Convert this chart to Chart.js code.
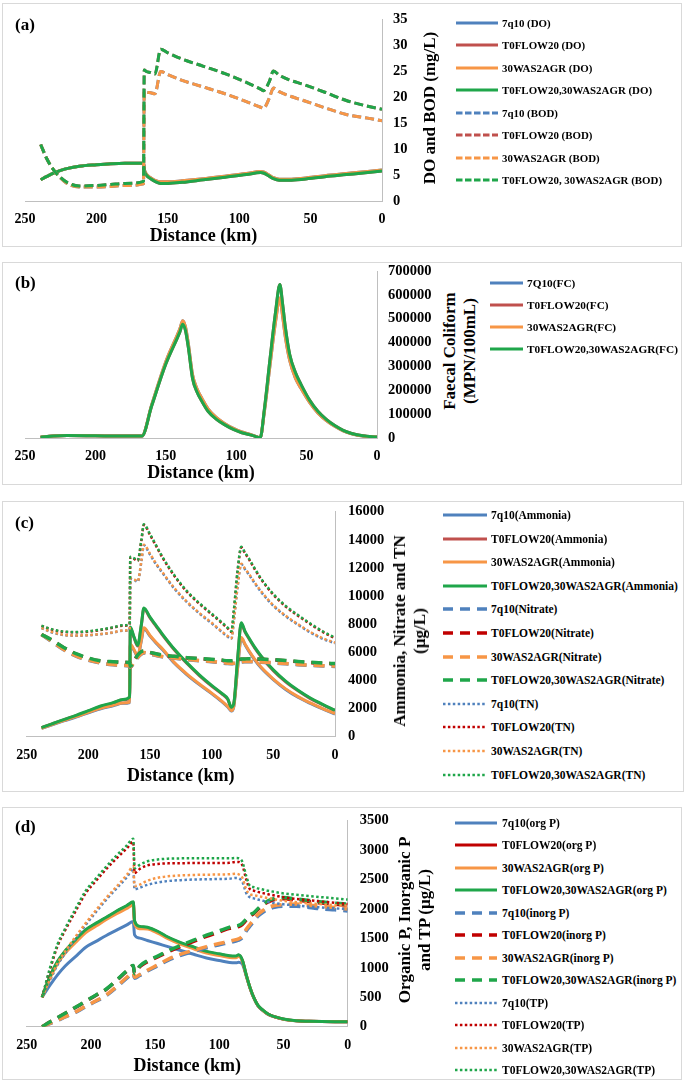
<!DOCTYPE html>
<html>
<head>
<meta charset="utf-8">
<script src="https://cdn.jsdelivr.net/npm/chart.js@4.4.1/dist/chart.umd.min.js"></script>
<style>
  body { margin: 0; background: #fff; width: 685px; height: 1082px; position: relative; overflow: hidden;
         font-family: "Liberation Serif", "Times New Roman", serif; font-weight: bold; color: #000; }
  .frame { position: absolute; border: 1px solid #d9d9d9; box-sizing: border-box; }
  canvas { position: absolute; left: 0; }
  .tag { position: absolute; left: 15px; font-size: 17px; line-height: 20px; transform: translateY(-50%); }
  .ytitle { position: absolute; font-size: 17px; line-height: 20px; text-align: center; white-space: nowrap;
            transform: translate(-50%, -50%) rotate(-90deg); }
  .leg { position: absolute; height: 16px; line-height: 16px; white-space: nowrap; }
  .leg svg { position: absolute; left: 0; top: 0; }
  .leg span { position: absolute; top: 0; }
</style>
</head>
<body>
<script>
/* ── Data ───────────────────────────────────────────────────── */

// (a) DO and BOD, mg/L
const kmA = [239, 235, 230, 225, 220, 212, 200, 190, 180, 167, 166.5, 165, 162, 159, 155, 150, 140, 125, 110, 95, 85, 83, 79, 76, 72, 65, 55, 40, 25, 10, 0];
const doQ7   = [4.1, 4.7, 5.4, 5.9, 6.3, 6.7, 7.0, 7.2, 7.3, 7.3, 6.2, 5.2, 4.5, 4.0, 3.7, 3.7, 3.9, 4.3, 4.8, 5.3, 5.7, 5.6, 5.0, 4.5, 4.2, 4.2, 4.4, 4.9, 5.3, 5.7, 6.0];
const doFlow = [4.1, 4.7, 5.4, 5.9, 6.3, 6.7, 7.0, 7.2, 7.3, 7.3, 6.0, 5.0, 4.3, 3.8, 3.4, 3.4, 3.6, 4.1, 4.6, 5.1, 5.5, 5.4, 4.8, 4.3, 4.0, 4.0, 4.2, 4.7, 5.1, 5.5, 5.8];
const doWas  = [4.1, 4.7, 5.4, 5.9, 6.3, 6.7, 7.0, 7.2, 7.3, 7.3, 6.2, 5.2, 4.5, 4.0, 3.7, 3.7, 3.9, 4.3, 4.8, 5.3, 5.7, 5.6, 5.0, 4.5, 4.2, 4.2, 4.4, 4.9, 5.3, 5.7, 6.0];
const doBoth = [4.1, 4.7, 5.4, 5.9, 6.3, 6.7, 7.0, 7.2, 7.3, 7.3, 6.0, 5.0, 4.3, 3.8, 3.4, 3.4, 3.6, 4.1, 4.6, 5.1, 5.5, 5.4, 4.8, 4.3, 4.0, 4.0, 4.2, 4.7, 5.1, 5.5, 5.8];
const bodQ7   = [10.9, 8.3, 6.0, 4.4, 3.3, 2.7, 2.7, 2.8, 3.0, 3.3, 21.2, 21.0, 20.9, 20.7, 25.0, 24.4, 23.3, 22.0, 20.7, 19.2, 18.1, 17.9, 19.8, 21.8, 21.1, 20.3, 19.4, 18.0, 16.7, 16.0, 15.5];
const bodFlow = [10.9, 8.3, 6.0, 4.5, 3.5, 2.9, 3.0, 3.2, 3.4, 3.8, 25.3, 25.0, 24.8, 24.5, 29.3, 28.6, 27.4, 26.0, 24.6, 22.9, 21.6, 21.3, 23.0, 25.1, 24.3, 23.4, 22.5, 21.0, 19.4, 18.3, 17.7];
const bodWas  = [10.9, 8.3, 6.0, 4.4, 3.3, 2.7, 2.7, 2.8, 3.0, 3.3, 21.2, 21.0, 20.9, 20.7, 25.0, 24.4, 23.3, 22.0, 20.7, 19.2, 18.1, 17.9, 19.8, 21.8, 21.1, 20.3, 19.4, 18.0, 16.7, 16.0, 15.5];
const bodBoth = [10.9, 8.3, 6.0, 4.5, 3.5, 2.9, 3.0, 3.2, 3.4, 3.8, 25.3, 25.0, 24.8, 24.5, 29.3, 28.6, 27.4, 26.0, 24.6, 22.9, 21.6, 21.3, 23.0, 25.1, 24.3, 23.4, 22.5, 21.0, 19.4, 18.3, 17.7];
const labelsA = ['7q10 (DO)', 'T0FLOW20 (DO)', '30WAS2AGR (DO)', 'T0FLOW20,30WAS2AGR (DO)',
                 '7q10 (BOD)', 'T0FLOW20 (BOD)', '30WAS2AGR (BOD)', 'T0FLOW20, 30WAS2AGR (BOD)'];

// (b) Faecal coliform, MPN/100mL
const kmB = [239, 230, 220, 200, 180, 167, 160, 150, 140, 138, 136, 134, 131, 128, 124, 120, 114, 108, 102, 96, 90, 86, 83, 80, 76, 72, 69, 67, 65, 62, 58, 54, 48, 42, 36, 30, 24, 18, 10, 0];
const fcQ7   = [3000, 8000, 10000, 9000, 8000, 8000, 140000, 320000, 458000, 491000, 465000, 395000, 265000, 208000, 162000, 122000, 85000, 60000, 40000, 25000, 15000, 7000, 0, 110000, 305000, 490000, 587000, 510000, 420000, 325000, 252000, 208000, 150000, 105000, 73000, 49000, 30000, 18000, 8000, 4000];
const fcFlow = [3000, 8000, 10000, 9000, 8000, 8000, 135000, 310000, 445000, 477000, 450000, 380000, 250000, 195000, 150000, 112000, 78000, 55000, 36000, 22000, 13000, 6000, 0, 120000, 330000, 530000, 643000, 560000, 460000, 350000, 275000, 225000, 160000, 112000, 78000, 52000, 32000, 19000, 9000, 4000];
const fcWas  = [3000, 8000, 10000, 9000, 8000, 8000, 140000, 320000, 458000, 491000, 465000, 395000, 265000, 208000, 162000, 122000, 85000, 60000, 40000, 25000, 15000, 7000, 0, 110000, 305000, 490000, 587000, 510000, 420000, 325000, 252000, 208000, 150000, 105000, 73000, 49000, 30000, 18000, 8000, 4000];
const fcBoth = [3000, 8000, 10000, 9000, 8000, 8000, 135000, 310000, 445000, 477000, 450000, 380000, 250000, 195000, 150000, 112000, 78000, 55000, 36000, 22000, 13000, 6000, 0, 120000, 330000, 530000, 643000, 560000, 460000, 350000, 275000, 225000, 160000, 112000, 78000, 52000, 32000, 19000, 9000, 4000];
const labelsB = ['7Q10(FC)', 'T0FLOW20(FC)', '30WAS2AGR(FC)', 'T0FLOW20,30WAS2AGR(FC)'];

// (c) Ammonia, nitrate and TN, ug/L
const kmC = [238, 230, 220, 210, 200, 190, 180, 172, 166.5, 166, 163, 160, 157, 155, 150, 145, 140, 130, 120, 110, 100, 92, 87, 84, 82, 79, 76, 73, 70, 65, 60, 50, 40, 30, 20, 10, 0];
const nh4Q7   = [590, 830, 1120, 1400, 1700, 1990, 2200, 2370, 2430, 6520, 6150, 5700, 6850, 7690, 7150, 6650, 6200, 5200, 4400, 3700, 3060, 2510, 2110, 1820, 2170, 4850, 7000, 6550, 6100, 5450, 4900, 4060, 3360, 2810, 2370, 1970, 1610];
const nh4Flow = [650, 890, 1200, 1500, 1820, 2150, 2390, 2620, 2790, 7750, 7050, 6450, 7950, 9100, 8450, 7850, 7250, 6150, 5200, 4350, 3600, 3060, 2660, 2070, 2370, 5450, 8050, 7450, 7000, 6300, 5700, 4700, 3900, 3260, 2710, 2270, 1850];
const nh4Was  = [600, 850, 1150, 1430, 1730, 2020, 2230, 2400, 2460, 6570, 6200, 5750, 6900, 7740, 7200, 6700, 6250, 5250, 4450, 3750, 3100, 2550, 2150, 1850, 2200, 4900, 7050, 6600, 6150, 5500, 4950, 4100, 3400, 2850, 2400, 2000, 1640];
const nh4Both = [650, 900, 1220, 1520, 1850, 2180, 2420, 2650, 2820, 7800, 7100, 6500, 8000, 9150, 8500, 7900, 7300, 6200, 5250, 4400, 3650, 3100, 2700, 2100, 2400, 5500, 8100, 7500, 7050, 6350, 5750, 4750, 3950, 3300, 2750, 2300, 1880];
const no3Q7   = [7270, 6780, 6180, 5730, 5430, 5230, 5110, 5060, 5020, 4930, 5280, 5630, 5880, 5960, 5860, 5770, 5680, 5580, 5480, 5400, 5330, 5250, 5200, 5190, 5210, 5260, 5310, 5330, 5330, 5320, 5300, 5250, 5180, 5120, 5070, 5030, 5000];
const no3Flow = [7270, 6880, 6330, 5880, 5580, 5380, 5310, 5280, 5260, 4980, 5380, 5780, 6030, 6080, 5980, 5880, 5780, 5700, 5600, 5540, 5480, 5430, 5380, 5380, 5400, 5460, 5500, 5510, 5520, 5510, 5500, 5460, 5400, 5330, 5270, 5220, 5180];
const no3Was  = [7270, 6800, 6200, 5750, 5450, 5250, 5130, 5080, 5040, 4950, 5300, 5650, 5900, 5980, 5880, 5790, 5700, 5600, 5500, 5420, 5350, 5270, 5220, 5210, 5230, 5280, 5330, 5350, 5350, 5340, 5320, 5270, 5200, 5140, 5090, 5050, 5020];
const no3Both = [7270, 6900, 6350, 5900, 5600, 5400, 5330, 5300, 5280, 5000, 5400, 5800, 6050, 6100, 6000, 5900, 5800, 5720, 5620, 5560, 5500, 5450, 5400, 5400, 5420, 5480, 5520, 5530, 5540, 5530, 5520, 5480, 5420, 5350, 5290, 5240, 5200];
const tnQ7   = [7720, 7430, 7230, 7180, 7210, 7280, 7400, 7530, 7600, 11220, 11160, 11010, 12460, 13600, 12950, 12250, 11650, 10500, 9560, 8760, 8060, 7460, 7110, 6960, 8260, 10650, 12250, 11900, 11550, 10900, 10300, 9310, 8560, 7960, 7410, 6960, 6650];
const tnFlow = [7880, 7620, 7450, 7420, 7470, 7590, 7750, 7890, 7990, 12740, 12650, 12500, 13950, 15050, 14350, 13550, 12750, 11400, 10300, 9450, 8700, 8100, 7700, 7450, 8950, 11750, 13450, 13050, 12650, 11900, 11200, 10100, 9250, 8600, 8000, 7450, 6990];
const tnWas  = [7740, 7450, 7250, 7200, 7230, 7300, 7420, 7550, 7620, 11260, 11200, 11050, 12500, 13650, 13000, 12300, 11700, 10550, 9600, 8800, 8100, 7500, 7150, 7000, 8300, 10700, 12300, 11950, 11600, 10950, 10350, 9350, 8600, 8000, 7450, 7000, 6690];
const tnBoth = [7900, 7650, 7480, 7450, 7500, 7620, 7780, 7920, 8020, 12790, 12700, 12550, 14000, 15100, 14400, 13600, 12800, 11450, 10350, 9500, 8750, 8150, 7750, 7500, 9000, 11800, 13500, 13100, 12700, 11950, 11250, 10150, 9300, 8650, 8050, 7500, 7040];
const labelsC = ['7q10(Ammonia)', 'T0FLOW20(Ammonia)', '30WAS2AGR(Ammonia)', 'T0FLOW20,30WAS2AGR(Ammonia)',
                 '7q10(Nitrate)', 'T0FLOW20(Nitrate)', '30WAS2AGR(Nitrate)', 'T0FLOW20,30WAS2AGR(Nitrate)',
                 '7q10(TN)', 'T0FLOW20(TN)', '30WAS2AGR(TN)', 'T0FLOW20,30WAS2AGR(TN)'];

// (d) Organic P, inorganic P and TP, ug/L
const kmD = [238, 232, 226, 220, 212, 204, 196, 188, 180, 172, 167, 166, 162, 156, 148, 140, 130, 120, 110, 100, 92, 87, 85, 82, 79, 76, 73, 70, 66, 62, 57, 50, 40, 30, 20, 10, 0];
const orgPQ7   = [500, 700, 880, 1030, 1190, 1350, 1450, 1550, 1640, 1730, 1789, 1560, 1505, 1465, 1413, 1360, 1295, 1230, 1168, 1125, 1090, 1085, 1095, 1060, 860, 650, 480, 358, 273, 210, 167, 128, 100, 92, 88, 85, 83];
const orgPFlow = [500, 845, 1100, 1280, 1470, 1640, 1750, 1850, 1955, 2050, 2112, 1790, 1695, 1680, 1612, 1514, 1420, 1345, 1270, 1228, 1196, 1190, 1212, 1122, 875, 657, 488, 363, 279, 214, 169, 129, 100, 93, 88, 85, 83];
const orgPWas  = [500, 820, 1070, 1250, 1430, 1600, 1710, 1820, 1920, 2010, 2067, 1750, 1665, 1660, 1590, 1495, 1400, 1325, 1250, 1210, 1175, 1170, 1195, 1110, 870, 655, 485, 360, 275, 212, 168, 128, 100, 92, 88, 85, 83];
const orgPBoth = [500, 850, 1110, 1290, 1480, 1650, 1760, 1860, 1965, 2060, 2122, 1800, 1705, 1690, 1622, 1524, 1430, 1355, 1280, 1238, 1206, 1200, 1222, 1130, 880, 660, 490, 365, 280, 215, 170, 130, 100, 93, 88, 85, 83];
const inPQ7   = [0, 52, 105, 165, 243, 342, 432, 530, 668, 825, 905, 825, 870, 945, 1035, 1128, 1213, 1278, 1340, 1392, 1430, 1456, 1468, 1515, 1625, 1710, 1795, 1875, 1945, 1995, 2030, 2045, 2045, 2025, 2000, 1985, 1965];
const inPFlow = [0, 78, 152, 226, 325, 430, 535, 635, 785, 945, 1035, 895, 1020, 1105, 1185, 1270, 1365, 1450, 1535, 1610, 1670, 1690, 1700, 1740, 1810, 1880, 1925, 1990, 2065, 2120, 2160, 2175, 2150, 2125, 2100, 2080, 2060];
const inPWas  = [0, 55, 110, 170, 250, 350, 440, 540, 680, 840, 920, 840, 885, 960, 1050, 1145, 1232, 1298, 1360, 1413, 1453, 1480, 1492, 1540, 1655, 1740, 1825, 1905, 1975, 2025, 2058, 2075, 2083, 2065, 2045, 2025, 2000];
const inPBoth = [0, 80, 155, 230, 330, 435, 540, 640, 790, 950, 1040, 900, 1030, 1120, 1200, 1288, 1383, 1469, 1555, 1630, 1690, 1710, 1720, 1760, 1830, 1900, 1940, 2005, 2080, 2140, 2180, 2195, 2170, 2145, 2120, 2100, 2083];
const tpQ7   = [500, 780, 1050, 1250, 1500, 1730, 1950, 2160, 2350, 2540, 2680, 2333, 2361, 2410, 2450, 2475, 2490, 2500, 2505, 2510, 2515, 2528, 2520, 2460, 2270, 2195, 2180, 2160, 2140, 2120, 2100, 2080, 2060, 2040, 2025, 2010, 2000];
const tpFlow = [500, 960, 1370, 1640, 1960, 2270, 2480, 2680, 2860, 3030, 3140, 2611, 2680, 2740, 2765, 2775, 2778, 2780, 2780, 2780, 2785, 2800, 2800, 2740, 2500, 2333, 2310, 2290, 2270, 2250, 2230, 2200, 2170, 2150, 2125, 2105, 2085];
const tpWas  = [500, 800, 1080, 1280, 1530, 1760, 1980, 2190, 2380, 2580, 2722, 2389, 2415, 2480, 2530, 2555, 2570, 2578, 2583, 2585, 2590, 2600, 2590, 2530, 2330, 2250, 2235, 2220, 2200, 2185, 2165, 2140, 2115, 2095, 2080, 2065, 2056];
const tpBoth = [500, 990, 1400, 1670, 2000, 2310, 2520, 2720, 2910, 3080, 3195, 2695, 2750, 2810, 2840, 2855, 2860, 2862, 2862, 2862, 2862, 2865, 2862, 2800, 2560, 2389, 2370, 2350, 2330, 2310, 2290, 2265, 2240, 2220, 2200, 2180, 2160];
const labelsD = ['7q10(org P)', 'T0FLOW20(org P)', '30WAS2AGR(org P)', 'T0FLOW20,30WAS2AGR(org P)',
                 '7q10(inorg P)', 'T0FLOW20(inorg P)', '30WAS2AGR(inorg P)', 'T0FLOW20,30WAS2AGR(inorg P)',
                 '7q10(TP)', 'T0FLOW20(TP)', '30WAS2AGR(TP)', 'T0FLOW20,30WAS2AGR(TP)'];

/* ── Styles ─────────────────────────────────────────────────── */

const FONT = '"Liberation Serif", "Times New Roman", serif';
const AXIS = '#bfbfbf';
const BLUE = '#4f81bd', RED = '#c0504d', DARKRED = '#c00000', ORANGE = '#f79646', GREEN = '#1fa64a';

const PLOT_DASH = { solid: [], dashA: [9, 4], dash: [11, 7], dot: [2.5, 2.5] };
const LEG_DASH  = { solid: [], dashA: [6.5, 2.5], dash: [10, 7], dot: [2.5, 2.4] };

function series(labels, arrays, colors, kinds, widths) {
  return arrays.map((arr, i) => ({ label: labels[i], data: arr, color: colors[i], kind: kinds[i], width: widths[i] }));
}

const panels = [
  {
    tag: '(a)', tagY: 25, frame: [2, 3, 682, 247],
    top: 0, height: 250, left: 25, right: 382, plotTop: 15, plotBottom: 201,
    yMax: 35, yStep: 5, yPad: 11, titlePad: 2.7,
    yTitle: { x: 430, y: 108, lines: ['DO and BOD (mg/L)'] },
    legend: { x: 456, y: 23, step: 22.43, len: 42, gap: 4, font: 10.9 },
    km: kmA,
    series: series(labelsA, [doQ7, doFlow, doWas, doBoth, bodQ7, bodFlow, bodWas, bodBoth],
      [BLUE, RED, ORANGE, GREEN, BLUE, RED, ORANGE, GREEN],
      ['solid', 'solid', 'solid', 'solid', 'dashA', 'dashA', 'dashA', 'dashA'],
      [3, 3, 3, 3, 3, 3, 3, 3])
  },
  {
    tag: '(b)', tagY: 283, frame: [2, 262, 682, 485],
    top: 250, height: 240, left: 25, right: 377, plotTop: 271, plotBottom: 438,
    yMax: 700000, yStep: 100000, yPad: 11, titlePad: 6.2,
    yTitle: { x: 459.5, y: 351, lines: ['Faecal Coliform', '(MPN/100mL)'] },
    legend: { x: 490, y: 283, step: 22, len: 33, gap: 4, font: 11.3 },
    km: kmB,
    series: series(labelsB, [fcQ7, fcFlow, fcWas, fcBoth],
      [BLUE, RED, ORANGE, GREEN], ['solid', 'solid', 'solid', 'solid'], [3, 3, 3, 3])
  },
  {
    tag: '(c)', tagY: 523, frame: [2, 501, 684, 792],
    top: 490, height: 300, left: 26.7, right: 335, plotTop: 509.3, plotBottom: 736.7,
    yMax: 16000, yStep: 2000, yPad: 13, titlePad: 2.7,
    yTitle: { x: 410, y: 631, lines: ['Ammonia, Nitrate and TN', '(µg/L)'] },
    legend: { x: 443, y: 515, step: 23.6, len: 44, gap: 4, font: 11.5 },
    km: kmC,
    series: series(labelsC, [nh4Q7, nh4Flow, nh4Was, nh4Both, no3Q7, no3Flow, no3Was, no3Both, tnQ7, tnFlow, tnWas, tnBoth],
      [BLUE, RED, ORANGE, GREEN, BLUE, DARKRED, ORANGE, GREEN, BLUE, DARKRED, ORANGE, GREEN],
      ['solid', 'solid', 'solid', 'solid', 'dash', 'dash', 'dash', 'dash', 'dot', 'dot', 'dot', 'dot'],
      [3, 3, 3, 3, 3.5, 3.5, 3.5, 3.5, 2.5, 2.5, 2.5, 2.5])
  },
  {
    tag: '(d)', tagY: 827, frame: [2, 807, 682, 1080],
    top: 800, height: 280, left: 26.7, right: 347.7, plotTop: 816.7, plotBottom: 1026.7,
    yMax: 3500, yStep: 500, yPad: 12, titlePad: 3.2,
    yTitle: { x: 415, y: 920, lines: ['Organic P, Inorganic P', 'and TP (µg/L)'] },
    legend: { x: 455, y: 823, step: 22.45, len: 42, gap: 5, font: 11.5 },
    km: kmD,
    series: series(labelsD, [orgPQ7, orgPFlow, orgPWas, orgPBoth, inPQ7, inPFlow, inPWas, inPBoth, tpQ7, tpFlow, tpWas, tpBoth],
      [BLUE, DARKRED, ORANGE, GREEN, BLUE, DARKRED, ORANGE, GREEN, BLUE, DARKRED, ORANGE, GREEN],
      ['solid', 'solid', 'solid', 'solid', 'dash', 'dash', 'dash', 'dash', 'dot', 'dot', 'dot', 'dot'],
      [3, 3, 3, 3, 3.5, 3.5, 3.5, 3.5, 2.5, 2.5, 2.5, 2.5])
  }
];

/* ── Build ──────────────────────────────────────────────────── */

function el(tag, cls, parent) {
  const e = document.createElement(tag);
  if (cls) e.className = cls;
  (parent || document.body).appendChild(e);
  return e;
}

function addPanel(p) {
  // grey frame round the panel
  const f = el('div', 'frame');
  f.style.left = p.frame[0] + 'px';
  f.style.top = p.frame[1] + 'px';
  f.style.width = (p.frame[2] - p.frame[0]) + 'px';
  f.style.height = (p.frame[3] - p.frame[1]) + 'px';

  const cv = el('canvas');
  cv.width = 440;
  cv.height = p.height;
  cv.style.top = p.top + 'px';

  const tickFont = { family: FONT, size: 14, weight: 'bold' };
  const n = p.series.length;

  new Chart(cv, {
    type: 'line',
    data: {
      datasets: p.series.map((s, i) => ({
        label: s.label,
        data: p.km.map((k, j) => ({ x: k, y: s.data[j] })),
        borderColor: s.color,
        borderWidth: s.width,
        borderDash: PLOT_DASH[s.kind],
        borderJoinStyle: 'round',
        cubicInterpolationMode: 'monotone',
        pointRadius: 0,
        fill: false,
        order: n - i   // later series drawn on top, like the original
      }))
    },
    options: {
      responsive: false,
      animation: false,
      events: [],
      layout: { padding: { left: p.left, top: p.plotTop - p.top, right: 0, bottom: 0 } },
      plugins: { legend: { display: false }, tooltip: { enabled: false } },
      scales: {
        x: {
          type: 'linear', reverse: true, min: 0, max: 250,
          grid: { display: false, drawTicks: false },
          border: { color: AXIS, width: 1 },
          ticks: { stepSize: 50, padding: 10, color: '#000', font: tickFont, maxRotation: 0 },
          title: { display: true, text: 'Distance (km)', color: '#000',
                   font: { family: FONT, size: 18, weight: 'bold' }, padding: { top: 0, bottom: p.titlePad } },
          afterFit: s => { s.height = p.top + p.height - p.plotBottom; }
        },
        y: {
          position: 'right', min: 0, max: p.yMax,
          grid: { display: false, drawTicks: false },
          border: { color: AXIS, width: 1 },
          ticks: { stepSize: p.yStep, padding: p.yPad, color: '#000',
                   font: { family: FONT, size: 14.5, weight: 'bold' }, callback: v => String(v) },
          afterFit: s => { s.width = 440 - p.right; }
        }
      }
    }
  });

  // panel letter
  const t = el('div', 'tag');
  t.style.top = p.tagY + 'px';
  t.textContent = p.tag;

  // rotated y-axis title (reads bottom to top)
  const yt = el('div', 'ytitle');
  yt.style.left = p.yTitle.x + 'px';
  yt.style.top = p.yTitle.y + 'px';
  yt.innerHTML = p.yTitle.lines.join('<br>');

  // legend
  p.series.forEach((s, i) => {
    const row = el('div', 'leg');
    row.style.left = p.legend.x + 'px';
    row.style.top = (p.legend.y + i * p.legend.step - 8) + 'px';
    row.style.fontSize = p.legend.font + 'px';
    const dash = LEG_DASH[s.kind].length ? LEG_DASH[s.kind].join(' ') : 'none';
    row.innerHTML =
      `<svg width="${p.legend.len}" height="16"><line x1="0" y1="8" x2="${p.legend.len}" y2="8" stroke="${s.color}" stroke-width="${s.width}" stroke-dasharray="${dash}"/></svg>` +
      `<span style="left:${p.legend.len + p.legend.gap}px">${s.label}</span>`;
  });
}

panels.forEach(addPanel);
</script>
</body>
</html>
